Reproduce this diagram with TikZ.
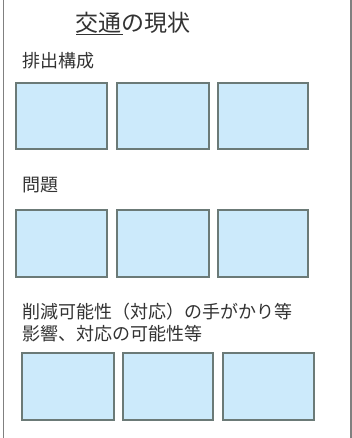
\documentclass[tikz,border=0pt]{standalone}
\usepackage{fontspec}
\newfontfamily\jp{Noto Sans CJK JP}
\definecolor{boxfill}{HTML}{CCEAFB}
\definecolor{boxline}{HTML}{6B7A77}
\definecolor{txt}{HTML}{333333}
\definecolor{frame}{HTML}{808080}
\begin{document}
\begin{tikzpicture}[x=1pt,y=-1pt,
  cell/.style={draw=boxline,fill=boxfill,line width=1.8pt},
  lbl/.style={anchor=west,inner sep=0pt,text=txt,font=\jp\fontsize{18}{20}\selectfont},
  ttl/.style={anchor=west,inner sep=0pt,text=txt,font=\jp\fontsize{23}{26}\selectfont}]
\useasboundingbox (0,0) rectangle (352,438);
\fill[white] (0,0) rectangle (352,438);
\draw[frame,line width=1.5pt] (3.5,0) -- (3.5,438);
\draw[frame,line width=1.5pt] (350.8,0) -- (350.8,438);
\node[ttl] (title) at (75,23) {交通の現状};
\draw[txt,line width=0.9pt] (76,34.5) -- (123,34.5);
\node[lbl] (l1) at (22,61) {排出構成};
\foreach \n/\a/\b in {a/16/107,b/117/209,c/218/308}{
  \draw[cell] (\a,83) rectangle (\b,149) node[pos=0.5] (r1\n) {};
}
\node[lbl] (l2) at (22,185.5) {問題};
\foreach \n/\a/\b in {a/16/107,b/117/209,c/218/308}{
  \draw[cell] (\a,210) rectangle (\b,277) node[pos=0.5] (r2\n) {};
}
\node[lbl] (l3) at (22,312) {削減可能性（対応）の手がかり等};
\node[lbl] (l4) at (22,333.5) {影響、対応の可能性等};
\foreach \n/\a/\b in {a/22/114,b/123/213,c/223/314}{
  \draw[cell] (\a,353) rectangle (\b,420) node[pos=0.5] (r3\n) {};
}
\end{tikzpicture}
\end{document}
